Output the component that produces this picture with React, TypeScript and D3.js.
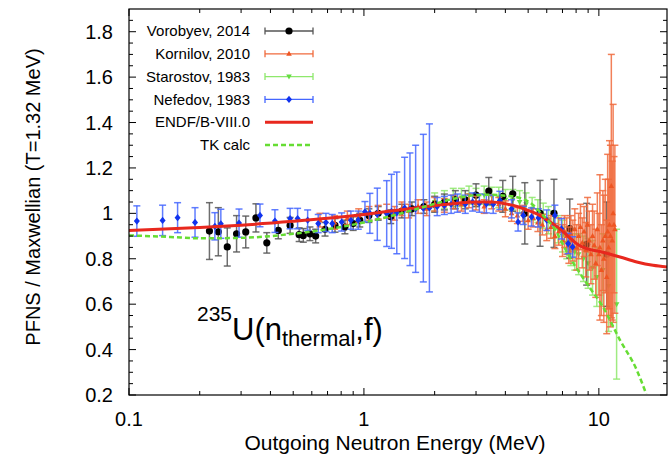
import React from "react";
import * as d3 from "d3";

// ---------- data (E in MeV, value, error) ----------
const vorobyevE = [0.22,0.24,0.262,0.287,0.314,0.347,0.386,0.432,0.485,0.53,0.552,0.589,0.623,0.683,0.753,0.83,0.9,0.96,1.05,1.15,1.3,1.45,1.6,1.8,2.0,2.2,2.45,2.7,3.0,3.4,3.9,4.3,4.84,5.62,6.44,7.52,8.87,10.8];
const vorobyevV = [0.922,0.919,0.852,0.91,0.918,0.98,0.87,0.925,0.947,0.906,0.903,0.91,0.9,0.93,0.947,0.94,0.955,0.97,0.99,1.0,0.985,1.01,1.02,1.03,1.04,1.05,1.06,1.06,1.08,1.098,1.075,1.086,1.0,1.0,1.0,0.933,0.864,0.82];
const vorobyevErr = [0.125,0.106,0.084,0.08,0.07,0.062,0.045,0.037,0.035,0.03,0.03,0.03,0.03,0.03,0.03,0.03,0.03,0.03,0.03,0.03,0.03,0.03,0.03,0.03,0.035,0.035,0.04,0.04,0.05,0.06,0.07,0.077,0.135,0.145,0.15,0.13,0.18,0.23];

const kornilovE = [0.65,0.75,0.85,0.95,1.05,1.15,1.25,1.35,1.45,1.55,1.7,1.85,2.0,2.2,2.4,2.6,2.8,3.0,3.25,3.5,3.75,4.0,4.25,4.5,4.75,5.0,5.25,5.5,5.75,6.0,6.25,6.5,6.75,7.0,7.15,7.3,7.45,7.6,7.75,7.9,8.05,8.2,8.35,8.5,8.65,8.8,8.95,9.1,9.25,9.4,9.55,9.7,9.85,10.0,10.1,10.25,10.4,10.5,10.65,10.8,10.9,11.0,11.1,11.2,11.3,11.4,11.5,11.6,11.7];
const kornilovV = [0.97,0.96,0.98,0.99,1.0,1.005,1.01,1.0,1.02,1.01,1.03,1.02,1.04,1.035,1.05,1.04,1.055,1.045,1.03,1.05,1.04,1.02,1.0,0.99,1.0,0.97,0.98,0.96,0.95,0.93,0.94,0.9,0.92,0.88,0.92,0.9,0.86,0.91,0.88,0.93,0.85,0.9,0.94,0.87,0.92,0.84,0.95,0.88,0.82,0.9,0.86,0.78,0.93,0.82,0.85,0.75,0.88,0.8,0.9,0.72,0.92,0.85,0.95,0.9,1.12,0.88,1.0,0.95,0.93];
const kornilovErr = [0.03,0.03,0.03,0.03,0.03,0.03,0.03,0.03,0.03,0.03,0.03,0.03,0.03,0.03,0.03,0.03,0.03,0.03,0.03,0.03,0.03,0.035,0.035,0.035,0.035,0.04,0.04,0.04,0.045,0.05,0.05,0.055,0.06,0.07,0.07,0.08,0.08,0.08,0.09,0.09,0.1,0.1,0.1,0.11,0.11,0.12,0.12,0.13,0.13,0.14,0.15,0.15,0.16,0.18,0.32,0.2,0.22,0.28,0.25,0.25,0.34,0.3,0.37,0.4,0.58,0.35,0.48,0.3,0.37];

const starostovE = [2.0,2.2,2.4,2.6,2.8,3.0,3.25,3.5,3.75,4.0,4.3,4.6,4.9,5.2,5.5,5.8,6.1,6.4,6.7,7.0,7.3,7.6,7.9,8.2,8.6,9.0,9.4,9.8,10.4,11.0,11.9];
const starostovV = [1.05,1.06,1.07,1.07,1.08,1.07,1.08,1.075,1.07,1.06,1.06,1.05,1.04,1.02,1.01,0.99,0.97,0.95,0.93,0.9,0.87,0.85,0.83,0.82,0.8,0.78,0.76,0.72,0.75,0.68,0.6];
const starostovErr = [0.04,0.04,0.04,0.04,0.04,0.04,0.04,0.04,0.045,0.045,0.045,0.05,0.05,0.05,0.05,0.055,0.06,0.06,0.06,0.07,0.07,0.08,0.08,0.09,0.1,0.11,0.12,0.13,0.16,0.2,0.33];

const nefedovE = [0.108,0.139,0.161,0.191,0.232,0.246,0.294,0.361,0.418,0.485,0.522,0.576,0.639,0.689,0.733,0.804,0.88,0.946,1.01,1.06,1.14,1.25,1.31,1.38,1.49,1.57,1.66,1.79,1.9,2.05,2.2,2.35,2.5,2.7,2.9,3.1,3.32,3.55,3.79,4.25,4.53,4.77,5.17,5.53,6.0,6.5,6.93,7.4,7.73];
const nefedovV = [0.966,0.969,0.981,0.96,0.943,0.954,0.957,0.991,0.966,0.977,0.977,0.97,0.955,0.96,0.955,0.962,0.97,0.97,1.007,1.0,0.996,0.999,1.009,1.002,1.024,1.018,1.02,1.023,1.024,1.03,1.035,1.04,1.045,1.04,1.05,1.045,1.042,1.04,1.057,1.02,0.962,0.991,0.984,0.98,0.97,0.991,0.932,0.867,0.852];
const nefedovErr = [0.067,0.067,0.066,0.065,0.06,0.064,0.062,0.05,0.05,0.045,0.045,0.045,0.04,0.04,0.04,0.04,0.04,0.04,0.045,0.088,0.115,0.145,0.163,0.18,0.223,0.248,0.28,0.325,0.37,0.04,0.04,0.04,0.04,0.04,0.04,0.04,0.04,0.04,0.04,0.04,0.04,0.04,0.04,0.04,0.045,0.045,0.045,0.045,0.045];

const endfE = [0.1,0.2,0.3,0.5,0.7,1,1.5,2,2.5,3,3.5,4,4.6,5,5.5,6,6.5,7,7.5,8,8.5,9,10,11,12.3,14.5,17,19.5];
const endfV = [0.925,0.938,0.948,0.965,0.978,0.995,1.018,1.035,1.045,1.05,1.05,1.042,1.027,1.013,0.995,0.972,0.948,0.922,0.893,0.868,0.852,0.843,0.833,0.822,0.808,0.786,0.771,0.764];

const tkE = [0.1,0.15,0.2,0.3,0.5,0.7,1,1.5,2,2.5,3,3.5,4,4.6,5.2,5.8,6.4,7.5,8.9,10.4,12.3,14.5,15.9];
const tkV = [0.903,0.896,0.89,0.892,0.91,0.93,0.96,1.005,1.042,1.068,1.08,1.082,1.078,1.068,1.04,0.99,0.94,0.808,0.69,0.588,0.442,0.31,0.205];

const yTicks = [0.2,0.4,0.6,0.8,1,1.2,1.4,1.6,1.8];
const xTicks = [0.1,1,10];

const legendLabels = ["Vorobyev, 2014","Kornilov, 2010","Starostov, 1983","Nefedov, 1983","ENDF/B-VIII.0","TK calc"];

// ---------- layout ----------
const W = 669, H = 465;
const L = 129, R = 667, T = 9, B = 395;
const FONT = "'Liberation Sans', Arial, Helvetica, sans-serif";

const x = d3.scaleLog().domain([0.1, 19.5]).range([L, R]);
const y = d3.scaleLinear().domain([0.2, 1.9]).range([B, T]);

type Series = { name: string; E: number[]; V: number[]; Err: number[]; bar: string; fill: string; marker: string; };

const series: Series[] = [
  { name: legendLabels[2], E: starostovE, V: starostovV, Err: starostovErr, bar: "#8ee86c", fill: "#66dd44", marker: "tdown" },
  { name: legendLabels[0], E: vorobyevE, V: vorobyevV, Err: vorobyevErr, bar: "#555555", fill: "#000000", marker: "circle" },
  { name: legendLabels[1], E: kornilovE, V: kornilovV, Err: kornilovErr, bar: "#f06a3c", fill: "#ee5522", marker: "tup" },
  { name: legendLabels[3], E: nefedovE, V: nefedovV, Err: nefedovErr, bar: "#4466ff", fill: "#1133ee", marker: "diamond" },
];

function Marker({ kind, cx, cy, fill }: { kind: string; cx: number; cy: number; fill: string }) {
  if (kind === "circle") return <circle cx={cx} cy={cy} r={3.6} fill={fill} />;
  if (kind === "tup") return <path d={`M${cx},${cy - 3}L${cx + 2.8},${cy + 2}L${cx - 2.8},${cy + 2}Z`} fill={fill} />;
  if (kind === "tdown") return <path d={`M${cx},${cy + 3}L${cx + 2.8},${cy - 2}L${cx - 2.8},${cy - 2}Z`} fill={fill} />;
  return <path d={`M${cx},${cy - 3.6}L${cx + 3},${cy}L${cx},${cy + 3.6}L${cx - 3},${cy}Z`} fill={fill} />;
}

function ErrSeries({ s }: { s: Series }) {
  const cap = 3.5;
  return (
    <g>
      {s.E.map((e, i) => {
        const cx = x(e), cy = y(s.V[i]);
        const y1 = y(s.V[i] + s.Err[i]), y2 = y(s.V[i] - s.Err[i]);
        return (
          <g key={i} stroke={s.bar} strokeWidth={1.5} strokeOpacity={0.85}>
            <line x1={cx} x2={cx} y1={y1} y2={y2} />
            <line x1={cx - cap} x2={cx + cap} y1={y1} y2={y1} />
            <line x1={cx - cap} x2={cx + cap} y1={y2} y2={y2} />
          </g>
        );
      })}
      {s.E.map((e, i) => (
        <Marker key={"m" + i} kind={s.marker} cx={x(e)} cy={y(s.V[i])} fill={s.fill} />
      ))}
    </g>
  );
}

export default function App() {
  const line = d3.line<[number, number]>().x((d) => x(d[0])).y((d) => y(d[1])).curve(d3.curveMonotoneX);
  const endfPath = line(endfE.map((e, i) => [e, endfV[i]] as [number, number])) || "";
  const tkPath = line(tkE.map((e, i) => [e, tkV[i]] as [number, number])) || "";

  const minorX: number[] = [];
  for (const dec of [0.1, 1, 10]) for (let k = 2; k <= 9; k++) { const v = dec * k; if (v <= 19.5) minorX.push(v); }
  const minorY: number[] = [];
  for (let v = 0.25; v < 1.9; v += 0.05) { const r = Math.round(v * 100) / 100; if (Math.round(r * 100) % 20 !== 0) minorY.push(r); }

  const legendY0 = 31, legendDy = 22.8;
  const legX1 = 265, legX2 = 313, legTextX = 250;

  return (
    <svg width={W} height={H} style={{ display: "block", position: "absolute", left: 0, top: 0 }} fontFamily={FONT}>
      <rect x={0} y={0} width={W} height={H} fill="#fff" />
      <defs>
        <clipPath id="plotclip"><rect x={L} y={T} width={R - L} height={B - T} /></clipPath>
      </defs>
      <g clipPath="url(#plotclip)">
        {series.map((s) => <ErrSeries key={s.name} s={s} />)}
        <path d={endfPath} fill="none" stroke="#e8281e" strokeWidth={3} />
        <path d={tkPath} fill="none" stroke="#66dd33" strokeWidth={2.5} strokeDasharray="5,3" />
      </g>
      {/* frame */}
      <rect x={L} y={T} width={R - L} height={B - T} fill="none" stroke="#000" strokeWidth={1.2} />
      {yTicks.map((t) => (
        <g key={"y" + t}>
          <line x1={L} x2={L + 7} y1={y(t)} y2={y(t)} stroke="#000" />
          <line x1={R} x2={R - 7} y1={y(t)} y2={y(t)} stroke="#000" />
          <text x={L - 16} y={y(t)} dy="0.35em" textAnchor="end" fontSize={20}>{t === 1 ? "1" : t.toFixed(1)}</text>
        </g>
      ))}
      {minorY.map((t) => (
        <g key={"my" + t}>
          <line x1={L} x2={L + 4} y1={y(t)} y2={y(t)} stroke="#000" />
          <line x1={R} x2={R - 4} y1={y(t)} y2={y(t)} stroke="#000" />
        </g>
      ))}
      {xTicks.map((t) => (
        <g key={"x" + t}>
          <line x1={x(t)} x2={x(t)} y1={B} y2={B - 7} stroke="#000" />
          <line x1={x(t)} x2={x(t)} y1={T} y2={T + 7} stroke="#000" />
          <text x={x(t)} y={426} textAnchor="middle" fontSize={20}>{t === 0.1 ? "0.1" : String(t)}</text>
        </g>
      ))}
      {minorX.map((t) => (
        <g key={"mx" + t}>
          <line x1={x(t)} x2={x(t)} y1={B} y2={B - 4} stroke="#000" />
          <line x1={x(t)} x2={x(t)} y1={T} y2={T + 4} stroke="#000" />
        </g>
      ))}
      <text x={395} y={450} textAnchor="middle" fontSize={21}>Outgoing Neutron Energy (MeV)</text>
      <text transform={`translate(40,${(T + B) / 2 - 5}) rotate(-90)`} textAnchor="middle" fontSize={20}>PFNS / Maxwellian (T=1.32 MeV)</text>
      <text x={197} y={340} fontSize={31}>
        <tspan fontSize={21} dy={-19}>235</tspan>
        <tspan dy={19}>U(n</tspan>
        <tspan fontSize={22} dy={6}>thermal</tspan>
        <tspan dy={-6}>,f)</tspan>
      </text>
      {legendLabels.map((lab, i) => {
        const ly = legendY0 + i * legendDy;
        const s = series.find((q) => q.name === lab);
        return (
          <g key={lab}>
            <text x={legTextX} y={ly} dy="0.35em" textAnchor="end" fontSize={15}>{lab}</text>
            {s && (
              <g>
                <g stroke={s.bar} strokeWidth={1.3}>
                  <line x1={legX1} x2={legX2} y1={ly} y2={ly} />
                  <line x1={legX1} x2={legX1} y1={ly - 3.5} y2={ly + 3.5} />
                  <line x1={legX2} x2={legX2} y1={ly - 3.5} y2={ly + 3.5} />
                </g>
                <Marker kind={s.marker} cx={(legX1 + legX2) / 2} cy={ly} fill={s.fill} />
              </g>
            )}
            {lab === "ENDF/B-VIII.0" && <line x1={legX1} x2={legX2} y1={ly} y2={ly} stroke="#e8281e" strokeWidth={3} />}
            {lab === "TK calc" && <line x1={legX1} x2={legX2} y1={ly} y2={ly} stroke="#66dd33" strokeWidth={2.5} strokeDasharray="5,3" />}
          </g>
        );
      })}
    </svg>
  );
}
